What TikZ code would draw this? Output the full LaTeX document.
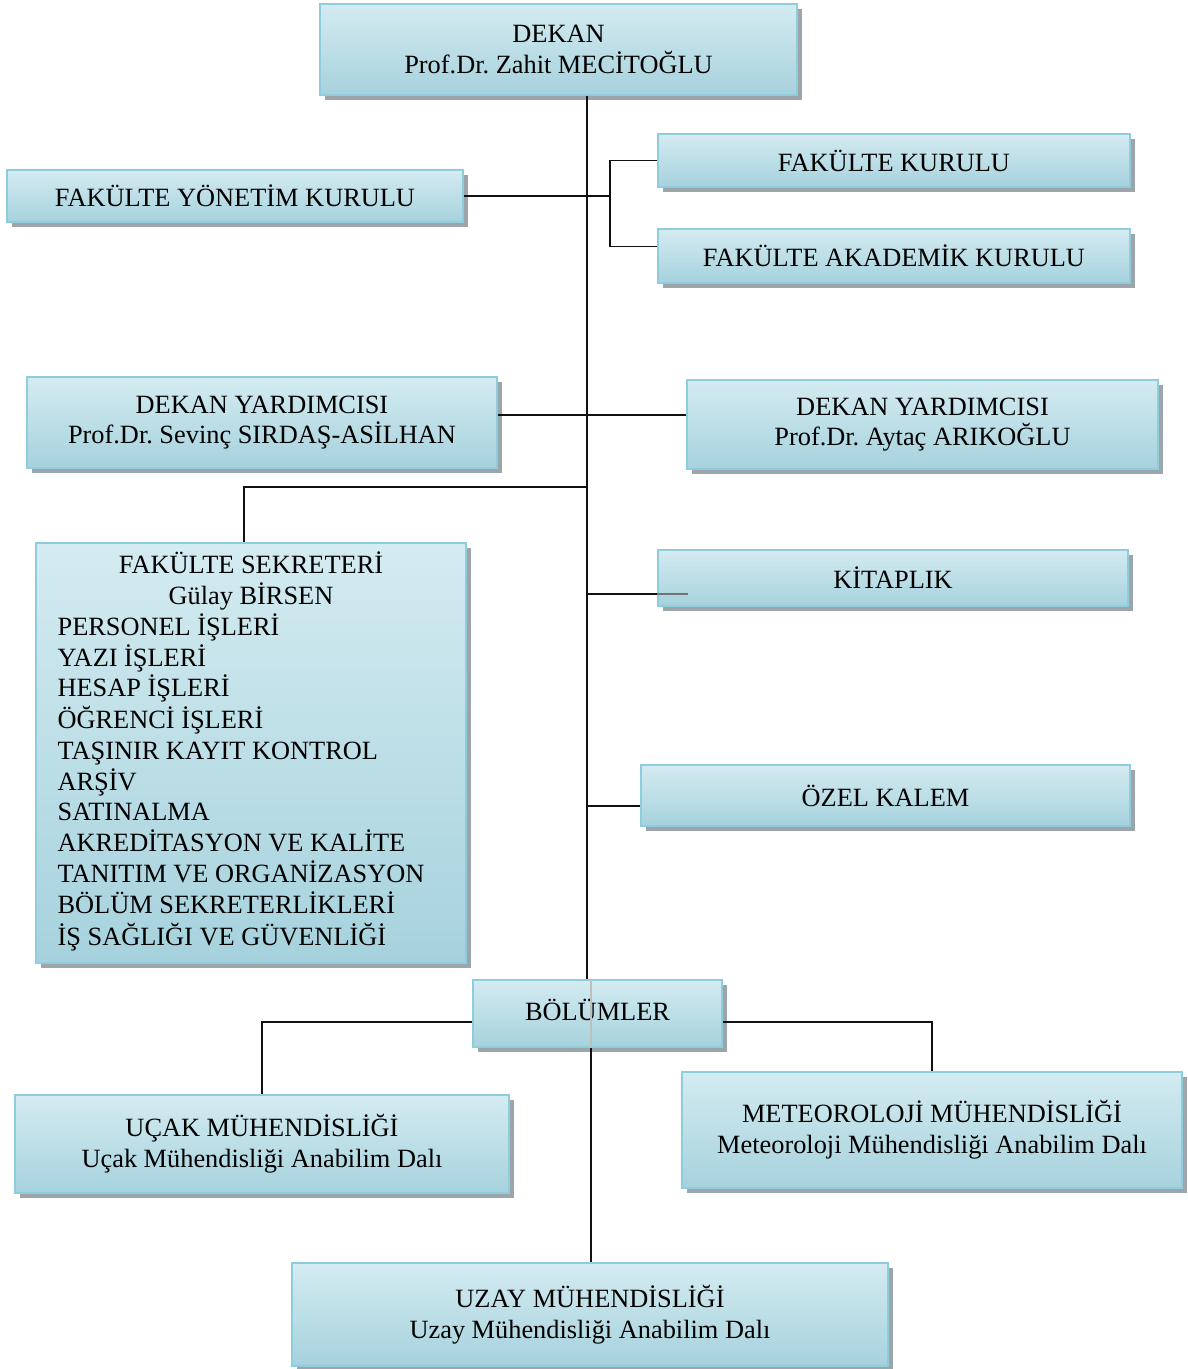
\documentclass[tikz,border=0pt]{standalone}
\usepackage{fontspec}
\setmainfont{Liberation Serif}
\usetikzlibrary{calc,shadows}
\definecolor{unitLight}{HTML}{D4EBF1}
\definecolor{unitDark}{HTML}{A6D2DD}
\definecolor{unitEdge}{HTML}{8DCDDC}
\definecolor{unitShade}{HTML}{9CA5A9}
\definecolor{lineInk}{HTML}{111111}
\frenchspacing

\begin{document}
\begin{tikzpicture}[x=0.02cm,y=-0.02cm,
    unitbase/.style={draw=unitEdge,line width=1pt,top color=unitLight,bottom color=unitDark,
      drop shadow={shadow xshift=0.1cm,shadow yshift=-0.1cm,fill=unitShade,opacity=1},
      inner sep=4pt,font=\fontsize{15}{17.5}\selectfont},
    unit/.style={unitbase,align=center},
    link/.style={draw=lineInk,line width=1pt}]
  \useasboundingbox (0,0) rectangle (1187,1369);
  % units
  \node[unit,minimum width=9.54cm,minimum height=1.82cm] (dekan) at (558.5,49.5) {DEKAN\\Prof.Dr. Zahit MECİTOĞLU};
  \node[unit,minimum width=9.44cm,minimum height=1.06cm] (fk) at (894,160.5) {FAKÜLTE KURULU};
  \node[unit,minimum width=9.12cm,minimum height=1.04cm] (fyk) at (235,196) {FAKÜLTE YÖNETİM KURULU};
  \node[unit,minimum width=9.44cm,minimum height=1.08cm] (fak) at (894,256) {FAKÜLTE AKADEMİK KURULU};
  \node[unit,minimum width=9.4cm,minimum height=1.82cm] (dyl) at (262,422.5) {DEKAN YARDIMCISI\\Prof.Dr. Sevinç SIRDAŞ-ASİLHAN};
  \node[unit,minimum width=9.42cm,minimum height=1.78cm] (dyr) at (922.5,424.5) {DEKAN YARDIMCISI\\Prof.Dr. Aytaç ARIKOĞLU};
  \node[unitbase,minimum width=8.6cm,minimum height=8.4cm] (sek) at (251,753) {\begin{tabular}{@{}l@{\hspace{0.4cm}}}
      \multicolumn{1}{@{}c@{}}{FAKÜLTE SEKRETERİ}\\
      \multicolumn{1}{@{}c@{}}{Gülay BİRSEN}\\
      PERSONEL İŞLERİ\\
      YAZI İŞLERİ\\
      HESAP İŞLERİ\\
      ÖĞRENCİ İŞLERİ\\
      TAŞINIR KAYIT KONTROL\\
      ARŞİV\\
      SATINALMA\\
      AKREDİTASYON VE KALİTE\\
      TANITIM VE ORGANİZASYON\\
      BÖLÜM SEKRETERLİKLERİ\\
      İŞ SAĞLIĞI VE GÜVENLİĞİ
    \end{tabular}};
  \node[unit,minimum width=9.4cm,minimum height=1.12cm] (kit) at (893,578) {KİTAPLIK};
  \node[unit,minimum width=9.78cm,minimum height=1.22cm] (ozel) at (885.5,795.5) {ÖZEL KALEM};
  \node[unit,minimum width=4.98cm,minimum height=1.34cm] (bol) at (597.5,1013.5) {\raisebox{0.16cm}{BÖLÜMLER}};
  \node[unit,minimum width=9.88cm,minimum height=1.96cm] (ucak) at (262,1144) {UÇAK MÜHENDİSLİĞİ\\Uçak Mühendisliği Anabilim Dalı};
  \node[unit,minimum width=10cm,minimum height=2.32cm] (meteo) at (932,1130) {METEOROLOJİ MÜHENDİSLİĞİ\\Meteoroloji Mühendisliği Anabilim Dalı};
  \node[unit,minimum width=11.92cm,minimum height=2.06cm] (uzay) at (590,1314.5) {UZAY MÜHENDİSLİĞİ\\Uzay Mühendisliği Anabilim Dalı};
  % connectors
  \coordinate (trunk) at (587,0);
  \coordinate (fork) at (610,0);
  \coordinate (split) at (591,0);
  \coordinate (sekjoin) at (587,487);
  \coordinate (fakin) at ($(fak.north west)!0.33!(fak.south west)$);
  \coordinate (dylout) at ($(dyl.north east)!0.42!(dyl.south east)$);
  \coordinate (kitin) at ($(kit.north west)!0.78!(kit.south west)$);
  \coordinate (ozelin) at ($(ozel.north west)!0.67!(ozel.south west)$);
  \coordinate (bolout) at (0,1022);
  \draw[link] (dekan.south -| trunk) -- (bol.north -| trunk);
  \draw[link] (fyk.east) -- (fyk.east -| fork);
  \draw[link] (fk.west) -- (fk.west -| fork) -- (fakin -| fork) -- (fakin);
  \draw[link] (dylout) -- (dylout -| dyr.west);
  \draw[link] (sekjoin) -| ([xshift=-0.14cm]sek.north);
  \draw[link] (kitin -| trunk) -- (kitin);
  \draw[link,draw=black!55] (kitin) -- ++(31,0);
  \draw[link] (ozelin -| trunk) -- (ozelin);
  \draw[link] (bolout -| bol.west) -| (ucak.north);
  \draw[link] (bolout -| bol.east) -| (meteo.north);
  \draw[link,draw=black!25] (bol.north -| split) -- (bol.south -| split);
  \draw[link] (bol.south -| split) -- (uzay.north -| split);
\end{tikzpicture}
\end{document}
